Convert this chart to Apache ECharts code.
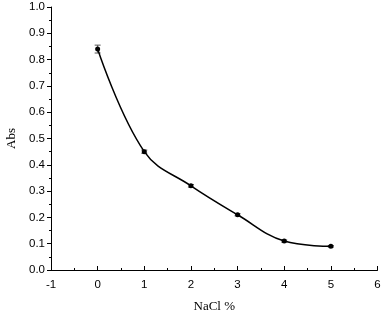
<!DOCTYPE html>
<html>
<head>
<meta charset="utf-8">
<script src="https://cdn.jsdelivr.net/npm/echarts@6/dist/echarts.min.js"></script>
<style>html,body{margin:0;padding:0;background:#fff}#c{width:383px;height:310px}</style>
</head>
<body>
<div id="c"></div>
<script>
var nacl = [0, 1, 2, 3, 4, 5];
var absValues = [0.84, 0.45, 0.32, 0.21, 0.11, 0.09];
var absErrors = [0.015, 0.006, 0.005, 0.004, 0.004, 0.003];
var xTicks = [-1, 0, 1, 2, 3, 4, 5, 6];
var yTicks = [0, 0.1, 0.2, 0.3, 0.4, 0.5, 0.6, 0.7, 0.8, 0.9, 1.0];

var chart = echarts.init(document.getElementById('c'));
var pts = nacl.map(function (x, i) { return [x, absValues[i]]; });
var errs = nacl.map(function (x, i) { return [x, absValues[i] - absErrors[i], absValues[i] + absErrors[i]]; });
var tickFont = {fontFamily: 'Liberation Sans, Arial, sans-serif', fontSize: 11.5, color: '#000'};
chart.setOption({
  animation: false,
  grid: {left: 51, right: 5.5, top: 7, bottom: 40, containLabel: false, outerBoundsMode: 'none'},
  xAxis: {
    type: 'value', min: xTicks[0], max: xTicks[xTicks.length - 1], interval: 1,
    name: 'NaCl %', nameLocation: 'middle', nameGap: 30,
    nameTextStyle: {fontFamily: 'Liberation Serif, Times New Roman, serif', fontSize: 13, color: '#000'},
    axisLine: {onZero: false, lineStyle: {color: '#000', width: 1}},
    axisTick: {inside: true, length: 4, lineStyle: {color: '#000'}},
    minorTick: {show: true, splitNumber: 2, length: 2, lineStyle: {color: '#000'}},
    axisLabel: Object.assign({margin: 9, formatter: function (v) { return String(v); }}, tickFont),
    splitLine: {show: false}
  },
  yAxis: {
    type: 'value', min: yTicks[0], max: yTicks[yTicks.length - 1], interval: 0.1,
    name: 'Abs', nameLocation: 'middle', nameGap: 33, nameRotate: 90,
    nameTextStyle: {fontFamily: 'Liberation Serif, Times New Roman, serif', fontSize: 13, color: '#000'},
    axisLine: {show: true, onZero: false, lineStyle: {color: '#000', width: 1}},
    axisTick: {show: true, inside: false, length: 4, lineStyle: {color: '#000'}},
    minorTick: {show: true, splitNumber: 2, length: 2, lineStyle: {color: '#000'}},
    axisLabel: Object.assign({margin: 6, formatter: function (v) { return v.toFixed(1); }}, tickFont),
    splitLine: {show: false}
  },
  series: [
    {
      type: 'line', data: pts, smooth: 0.4,
      symbol: 'circle', symbolSize: 5,
      itemStyle: {color: '#000'},
      lineStyle: {color: '#000', width: 1.5}
    },
    {
      type: 'custom', data: errs,
      renderItem: function (params, api) {
        var x = api.value(0);
        var lo = api.coord([x, api.value(1)]);
        var hi = api.coord([x, api.value(2)]);
        var w = 3;
        var st = {stroke: '#555', lineWidth: 1};
        return {type: 'group', children: [
          {type: 'line', shape: {x1: lo[0], y1: lo[1], x2: hi[0], y2: hi[1]}, style: st},
          {type: 'line', shape: {x1: lo[0] - w, y1: lo[1], x2: lo[0] + w, y2: lo[1]}, style: st},
          {type: 'line', shape: {x1: hi[0] - w, y1: hi[1], x2: hi[0] + w, y2: hi[1]}, style: st}
        ]};
      },
      z: 1
    }
  ]
});
</script>
</body>
</html>
